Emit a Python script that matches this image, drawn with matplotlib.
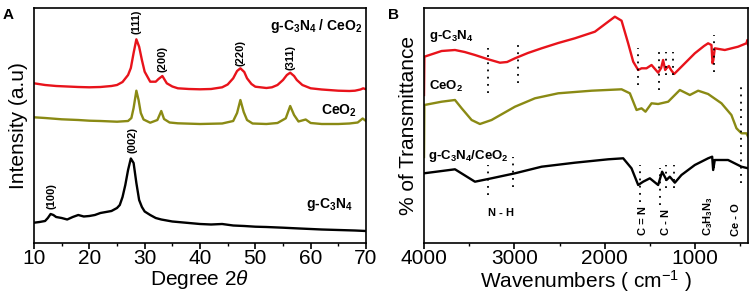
import matplotlib
matplotlib.use("Agg")
import matplotlib.pyplot as plt
from matplotlib.ticker import MultipleLocator

plt.rcParams['font.family'] = ['Liberation Sans', 'DejaVu Sans']
plt.rcParams['mathtext.fontset'] = 'custom'
plt.rcParams['mathtext.rm'] = 'Liberation Sans'
plt.rcParams['mathtext.it'] = 'Liberation Sans:italic'
plt.rcParams['mathtext.bf'] = 'Liberation Sans:bold'
plt.rcParams['mathtext.sf'] = 'Liberation Sans'

RED = '#e8131b'
OLIVE = '#8a8a14'
BLACK = '#000000'

# ---------------- Panel A: XRD ----------------
xrd_gcn_x = [10, 11, 12, 12.5, 13, 13.5, 14, 15, 16, 17, 18, 19, 20, 21, 22, 23, 24, 25, 25.5, 26,
             26.5, 27, 27.5, 28, 28.5, 29, 29.5, 30, 31, 32, 33, 35, 37, 40, 42, 44, 46, 48, 50, 52,
             55, 58, 60, 62, 65, 68, 70]
xrd_gcn_y = [19.8, 20.5, 21.5, 24.5, 28.5, 27.5, 25.5, 24.5, 23, 25.5, 27.5, 26, 26.5, 27.5, 29.5, 30.5,
             31.5, 34.5, 37.5, 45.5, 57.5, 72.5, 84, 79.5, 59.5, 42.5, 35.5, 31, 27.5, 24.5, 23, 21, 20,
             18.5, 18, 18.5, 17, 16.5, 15.8, 15.5, 14.8, 14, 13.5, 13, 12.5, 12, 11.5]

xrd_comp_x = [10, 12, 14, 16, 18, 20, 22, 24, 25, 26, 27, 27.5, 28, 28.5, 29, 29.5, 30, 31, 32, 32.5,
              33.2, 34, 35, 36, 38, 40, 42, 44, 45, 46, 46.7, 47.3, 48, 48.5, 49.3, 50, 52, 53, 54,
              55, 55.7, 56.3, 57, 57.5, 58.5, 60, 62, 65, 67, 68, 69, 69.5, 70]
xrd_comp_y = [159.2, 157.5, 156.5, 156, 155.5, 155.2, 155.5, 156.5, 157.5, 160.5, 167.5, 174.5, 189.5,
              203.2, 195.8, 182.5, 170.8, 160.8, 160.8, 163.5, 166.5, 159.2, 156, 154.2, 153.5, 153.2,
              153.5, 155.2, 158, 164.2, 171.5, 174.2, 170.5, 164.2, 158.5, 155.8, 154.5, 155.2, 157.5,
              162.5, 167.5, 169.8, 166.5, 162.5, 157.5, 154.2, 153, 151.8, 151.5, 151.8, 153, 154.2, 153.2]

xrd_ceo_x = [10, 12, 15, 18, 20, 22, 25, 27, 27.6, 28, 28.5, 28.9, 29.3, 29.8, 31, 32.3, 33, 33.5, 34.5,
             36, 40, 44, 46, 46.7, 47.3, 47.9, 48.5, 49.5, 52, 54, 55.5, 56.3, 57, 57.8, 59.1, 60, 62,
             65, 67, 68.5, 69.4, 70]
xrd_ceo_y = [125.2, 124.5, 123.2, 122.5, 121.8, 121.5, 120.8, 121.5, 124.5, 134.5, 151.8, 142.5, 129.5,
             123, 119.8, 122.5, 131.5, 123.5, 120, 119.2, 118.5, 119, 121.5, 129.5, 142.5, 130.5, 122.5,
             119, 118.5, 119.5, 124.2, 136.5, 127.5, 121, 123, 119.5, 118.5, 118.5, 119, 120, 124, 121.5]

hkl_labels = ['(111)', '(200)', '(220)', '(311)', '(002)', '(100)']
hkl_x = [28.5, 33.3, 47.3, 56.3, 27.8, 13.2]
hkl_y = [220.5, 183.5, 189.5, 185.5, 102.5, 46.5]

# ---------------- Panel B: FTIR ----------------
ir_gcn_x = [4000, 3996, 3805, 3657, 3550, 3436, 3300, 3159, 3080, 2993, 2850, 2698, 2514, 2330, 2108,
            1961, 1887, 1813, 1740, 1684, 1629, 1592, 1537, 1481, 1408, 1375, 1353, 1330, 1316, 1290,
            1265, 1231, 1150, 1002, 900, 855, 818, 806, 797, 781, 670, 523, 431, 420, 412]
ir_gcn_y = [147.5, 185.8, 191.5, 192.5, 190.5, 187.5, 183.5, 179.8, 180.5, 184.2, 189.5, 194.2, 199.5,
            204.2, 210.8, 220.8, 225.8, 221.8, 199.2, 180.8, 172.5, 174.2, 174.2, 177.5, 169.8, 174.5,
            182.5, 172.5, 174.2, 176.5, 172.5, 168.5, 175.8, 189.2, 196.5, 199.2, 197.5, 179.2, 182.5,
            194.2, 192.5, 195.8, 199.2, 202.5, 197.5]

ir_ceo_x = [4000, 3996, 3805, 3657, 3583, 3473, 3381, 3252, 2993, 2772, 2514, 2145, 1813, 1721, 1647,
            1592, 1548, 1481, 1408, 1297, 1168, 1057, 965, 855, 707, 597, 541, 486, 431, 412]
ir_ceo_y = [85.5, 137.5, 140.8, 142.5, 134.2, 122.5, 118.5, 122.5, 135.8, 144.2, 149.2, 151.8, 153.2,
            149.2, 132.5, 134.2, 130.8, 139.2, 138.5, 140.8, 152.5, 147.5, 151.8, 148.5, 139.2, 127.5,
            114.2, 109.2, 109.2, 105.8]

ir_comp_x = [4000, 3657, 3436, 3252, 2993, 2698, 2330, 1961, 1795, 1703, 1629, 1574, 1500, 1408, 1364,
             1316, 1279, 1223, 1150, 1002, 855, 810, 799, 781, 634, 486, 412]
ir_comp_y = [69.2, 73.2, 60.8, 64.2, 69.2, 75.8, 79.8, 83.2, 84.2, 74.2, 57.5, 60.8, 64.2, 57.5, 70.8,
             62.5, 65.8, 59.8, 67.5, 77.5, 84.2, 85.8, 72.5, 82.5, 82.5, 75.8, 74.2]

# dotted marker lines: wavenumber, top, bottom
mark_w = [3296, 2957, 1629, 1400, 1323, 1242, 792, 486, 3296, 3019, 1611, 1389, 1316, 1231, 792]
mark_top = [194.5, 202.5, 194.5, 190.5, 190.5, 190.5, 207.5, 157.5, 77.5, 85.5, 77.5, 74.5, 77.5, 77.5, 87.5]
mark_bot = [149.5, 159.5, 157.5, 152.5, 167.5, 167.5, 170.5, 59.5, 47.5, 55.5, 40.5, 37.5, 54.5, 54.5, 74.5]

band_labels = ['C = N', 'C - N', 'C$_\\mathbf{3}$H$_\\mathbf{3}$N$_\\mathbf{3}$', 'Ce - O']
band_x = [1575, 1320, 860, 545]
band_y = [21.5, 20.5, 26.5, 22.5]

fig = plt.figure(figsize=(7.55, 2.99), dpi=100)
axA = fig.add_axes([34/755, 1-242.5/299, (366-34)/755, (242.5-8)/299])
axB = fig.add_axes([424/755, 1-242.5/299, (748.3-424)/755, (242.5-8)/299])

lw = 1.7
axA.plot(xrd_comp_x, xrd_comp_y, color=RED, lw=lw)
axA.plot(xrd_ceo_x, xrd_ceo_y, color=OLIVE, lw=lw)
axA.plot(xrd_gcn_x, xrd_gcn_y, color=BLACK, lw=lw)
axA.set_xlim(10, 70)
axA.set_ylim(0, 234.5)
for lab, x, y in zip(hkl_labels, hkl_x, hkl_y):
    axA.text(x, y, lab, rotation=90, ha='center', va='center', fontsize=8, fontweight='bold')
axA.text(69.3, 212.5, 'g-C$_\\mathbf{3}$N$_\\mathbf{4}$ / CeO$_\\mathbf{2}$', ha='right', va='baseline',
         fontsize=10, fontweight='bold')
axA.text(68.4, 127.5, 'CeO$_\\mathbf{2}$', ha='right', va='baseline', fontsize=10, fontweight='bold')
axA.text(67.6, 34.2, 'g-C$_\\mathbf{3}$N$_\\mathbf{4}$', ha='right', va='baseline', fontsize=10, fontweight='bold')
axA.set_xlabel('Degree 2$\\theta$', fontsize=15, labelpad=0)
axA.set_ylabel('Intensity (a.u)', fontsize=15, labelpad=4)
axA.xaxis.set_major_locator(MultipleLocator(10))
axA.xaxis.set_minor_locator(MultipleLocator(5))
axA.set_yticks([])

axB.plot(ir_gcn_x, ir_gcn_y, color=RED, lw=lw)
axB.plot(ir_ceo_x, ir_ceo_y, color=OLIVE, lw=lw)
axB.plot(ir_comp_x, ir_comp_y, color=BLACK, lw=lw)
axB.vlines(mark_w, mark_bot, mark_top, colors='black', linestyles=(0, (1, 3)), lw=1.3)
axB.set_xlim(4000, 410)
axB.set_ylim(0, 234.5)
axB.text(3940, 203, 'g-C$_\\mathbf{3}$N$_\\mathbf{4}$', ha='left', va='baseline', fontsize=9.5, fontweight='bold')
axB.text(3950, 153, 'CeO$_\\mathbf{2}$', ha='left', va='baseline', fontsize=9.5, fontweight='bold')
axB.text(3960, 84, 'g-C$_\\mathbf{3}$N$_\\mathbf{4}$/CeO$_\\mathbf{2}$', ha='left', va='baseline',
         fontsize=9.5, fontweight='bold')
axB.text(3150, 29.5, 'N - H', ha='center', va='center', fontsize=8, fontweight='bold')
for lab, x, y in zip(band_labels, band_x, band_y):
    axB.text(x, y, lab, rotation=90, ha='center', va='center', fontsize=8, fontweight='bold')
axB.set_xlabel('Wavenumbers ( cm$^{-1}$ )', fontsize=15, labelpad=0)
axB.set_ylabel('% of Transmittance', fontsize=15, labelpad=4)
axB.xaxis.set_major_locator(MultipleLocator(1000))
axB.xaxis.set_minor_locator(MultipleLocator(500))
axB.set_yticks([])

for ax in (axA, axB):
    for s in ax.spines.values():
        s.set_linewidth(1.2)
    ax.tick_params(axis='x', which='major', direction='out', length=4, width=1.2, labelsize=15, pad=1)
    ax.tick_params(axis='x', which='minor', direction='out', length=2.5, width=1.0)

fig.text(3/755, 1-15/299, 'A', fontsize=11, fontweight='bold', ha='left', va='center')
fig.text(388/755, 1-15/299, 'B', fontsize=11, fontweight='bold', ha='left', va='center')

fig.savefig('out.png', dpi=100)
